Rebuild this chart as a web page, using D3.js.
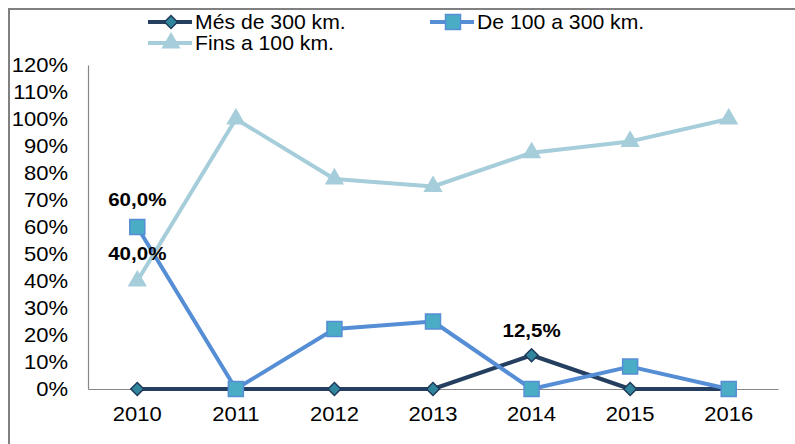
<!DOCTYPE html>
<html>
<head>
<meta charset="utf-8">
<script src="https://cdn.jsdelivr.net/npm/d3@7"></script>
<style>
  body { margin: 0; background: #fff; }
  text { font-family: "Liberation Sans", Arial, sans-serif; fill: #000; }
</style>
</head>
<body>
<script>
var years = ["2010", "2011", "2012", "2013", "2014", "2015", "2016"];
var mesDe300 = [0, 0, 0, 0, 12.5, 0, 0];
var de100a300 = [60, 0, 22.2, 25, 0, 8.3, 0];
var fins100 = [40, 100, 77.8, 75, 87.5, 91.7, 100];
var yTicks = [0, 10, 20, 30, 40, 50, 60, 70, 80, 90, 100, 110, 120];

var width = 795,
  height = 444;

var svg = d3.select("body").append("svg")
  .attr("width", width)
  .attr("height", height);

// frame (only top & left edges visible)
svg.append("path")
  .attr("d", "M9," + height + "V9H" + width)
  .attr("fill", "none")
  .attr("stroke", "#808080")
  .attr("stroke-width", 2);

var x = d3.scaleBand().domain(years).range([88, 778]);
var y = d3.scaleLinear().domain([0, 120]).range([389, 65]);
var cx = function(d, i) { return x(years[i]) + x.bandwidth() / 2; };

var series = [
  { name: "Més de 300 km.", values: mesDe300, line: "#243F60", fill: "#31859C", stroke: "#1F3A5A", shape: d3.symbolSquare, size: 85, rot: 45 },
  { name: "De 100 a 300 km.", values: de100a300, line: "#558ED5", fill: "#4BACC6", stroke: "#558ED5", shape: d3.symbolSquare, size: 225, rot: 0 },
  { name: "Fins a 100 km.", values: fins100, line: "#A5CDDA", fill: "#A5CDDA", stroke: "#A5CDDA", shape: d3.symbolTriangle, size: 120, rot: 0 }
];

// axes
var gy = svg.append("g")
  .attr("transform", "translate(88,0)")
  .call(d3.axisLeft(y).tickValues(yTicks).tickSize(0).tickFormat(function(d) { return d + "%"; }));
var gx = svg.append("g")
  .attr("transform", "translate(0,389)")
  .call(d3.axisBottom(x).tickSize(0).tickPadding(18));
[gx, gy].forEach(function(g) {
  g.select(".domain").attr("stroke", "#868686").attr("stroke-width", 1.2);
  g.selectAll("text").attr("font-size", 20).attr("font-family", null);
});
gx.selectAll(".tick text").attr("transform", "scale(1.1,1)");
gy.selectAll(".tick text")
  .attr("x", 0)
  .attr("transform", "translate(-20,0) scale(1.1,1)");

var line = d3.line().x(cx).y(function(d) { return y(d); });

series.forEach(function(s) {
  svg.append("path")
    .datum(s.values)
    .attr("d", line)
    .attr("fill", "none")
    .attr("stroke", s.line)
    .attr("stroke-width", 4)
    .attr("stroke-linejoin", "round");
  svg.append("g").selectAll("path")
    .data(s.values)
    .enter().append("path")
    .attr("transform", function(d, i) { return "translate(" + cx(d, i) + "," + y(d) + ") rotate(" + s.rot + ")"; })
    .attr("d", d3.symbol().type(s.shape).size(s.size))
    .attr("fill", s.fill)
    .attr("stroke", s.stroke)
    .attr("stroke-width", 1.5);
});

// data labels
var labels = [
  { year: "2010", value: 60, text: "60,0%", dy: -21 },
  { year: "2010", value: 40, text: "40,0%", dy: -21 },
  { year: "2014", value: 12.5, text: "12,5%", dy: -18 }
];
svg.selectAll(".lbl")
  .data(labels)
  .enter().append("text")
  .attr("class", "lbl")
  .attr("transform", function(d) {
    return "translate(" + (x(d.year) + x.bandwidth() / 2) + "," + (y(d.value) + d.dy) + ") scale(1.08,1)";
  })
  .attr("text-anchor", "middle")
  .attr("font-size", 19)
  .attr("font-weight", "bold")
  .text(function(d) { return d.text; });

// legend
var legendPos = [[148, 22], [430, 22], [148, 43]];
var lg = svg.append("g").selectAll("g")
  .data(series)
  .enter().append("g")
  .attr("transform", function(d, i) { return "translate(" + legendPos[i][0] + "," + legendPos[i][1] + ")"; });
lg.append("line")
  .attr("x1", 0).attr("x2", 44)
  .attr("stroke", function(d) { return d.line; })
  .attr("stroke-width", 4);
lg.append("path")
  .attr("transform", function(d) { return "translate(23,0) rotate(" + d.rot + ")"; })
  .attr("d", function(d) { return d3.symbol().type(d.shape).size(d.size)(); })
  .attr("fill", function(d) { return d.fill; })
  .attr("stroke", function(d) { return d.stroke; })
  .attr("stroke-width", 1.5);
lg.append("text")
  .attr("transform", "translate(47,7) scale(1.06,1)")
  .attr("font-size", 20)
  .text(function(d) { return d.name; });
</script>
</body>
</html>
